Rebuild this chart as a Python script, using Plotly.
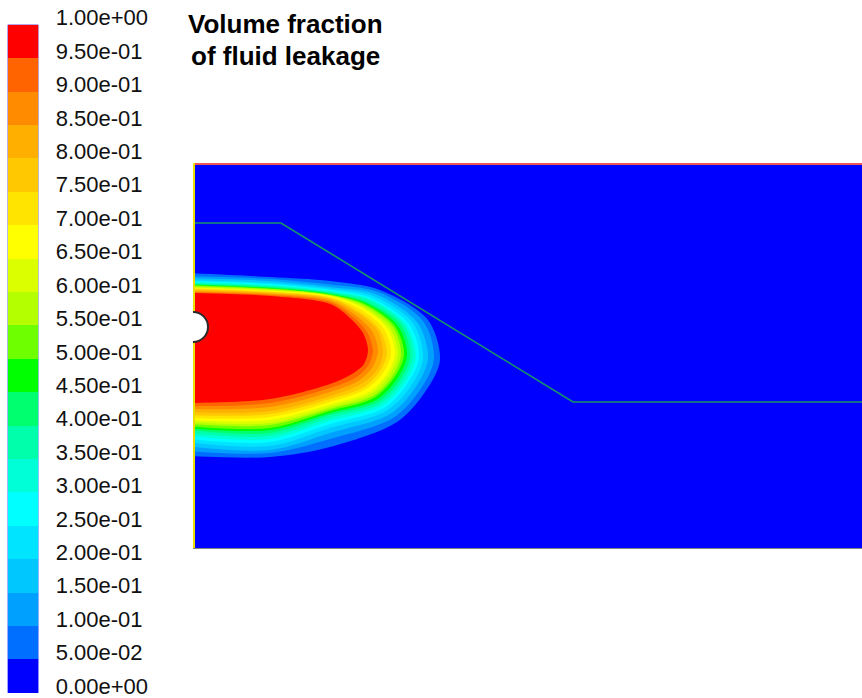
import plotly.graph_objects as go

W, H = 862, 698

# ---------------- colour legend ----------------
level_edges = [0.00, 0.05, 0.10, 0.15, 0.20, 0.25, 0.30, 0.35, 0.40, 0.45, 0.50,
               0.55, 0.60, 0.65, 0.70, 0.75, 0.80, 0.85, 0.90, 0.95, 1.00]
tick_labels = ["0.00e+00", "5.00e-02", "1.00e-01", "1.50e-01", "2.00e-01", "2.50e-01",
               "3.00e-01", "3.50e-01", "4.00e-01", "4.50e-01", "5.00e-01", "5.50e-01",
               "6.00e-01", "6.50e-01", "7.00e-01", "7.50e-01", "8.00e-01", "8.50e-01",
               "9.00e-01", "9.50e-01", "1.00e+00"]
band_colors = ["rgb(0,0,255)", "rgb(0,110,255)", "rgb(0,160,255)", "rgb(0,200,255)",
               "rgb(0,228,255)", "rgb(0,255,255)", "rgb(0,255,215)", "rgb(0,255,170)",
               "rgb(0,255,110)", "rgb(0,255,0)", "rgb(110,255,0)", "rgb(180,255,0)",
               "rgb(220,255,0)", "rgb(255,255,0)", "rgb(255,228,0)", "rgb(255,200,0)",
               "rgb(255,175,0)", "rgb(255,140,0)", "rgb(255,100,0)", "rgb(255,0,0)"]

# ---------------- contour boundaries (levels 0.05 ... 0.95) ----------------
contour_levels = [0.05, 0.10, 0.15, 0.20, 0.25, 0.30, 0.35, 0.40, 0.45, 0.50,
                  0.55, 0.60, 0.65, 0.70, 0.75, 0.80, 0.85, 0.90, 0.95]
top_wall_y = [110, 113, 115, 117, 118, 119, 120, 121, 121.5, 122, 123, 124, 124.5, 125, 126, 127, 128, 129, 130]
top_a_y = [114, 116, 118, 120, 121, 122, 123, 124, 125, 125.5, 126, 127, 128, 128.5, 129, 130, 131, 132, 133]
top_b_y = [118, 121.5, 124, 125.5, 127, 128, 129, 130, 131, 131.5, 132, 132.5, 133, 134, 135, 136, 137.5, 139, 141]
upper1_x = [187, 185, 182, 180, 178, 177, 176, 174, 173, 172, 171, 169, 168, 167, 165, 163, 161, 159, 157]
upper1_y = [127, 129, 131, 133, 135, 136, 137, 139, 140, 141, 142, 143, 144, 146, 148, 149, 151, 153, 155]
upper2_x = [235, 230, 224, 220, 216, 213, 211, 208, 205, 202, 200, 197, 194, 191, 187, 184, 179, 174, 170]
upper2_y = [157, 158, 159, 160, 161, 161, 162, 162, 163, 163, 164, 165, 165, 166, 167, 167, 168, 169, 170]
tip_x = [247, 241, 235, 230, 226, 223, 220, 217, 214, 211, 208, 205, 202, 198, 194, 190, 185, 180, 175]
tip_y = [197, 196, 195, 195, 194, 194, 193, 193, 192, 192, 192, 191, 191, 190, 190, 189, 188, 188, 187]
lower2_x = [232, 227, 222, 218, 214, 212, 209, 207, 204, 201, 199, 196, 194, 190, 187, 184, 179, 175, 171]
lower2_y = [229, 227, 225, 223, 221, 220, 219, 217, 216, 215, 214, 213, 211, 210, 208, 207, 205, 203, 201]
lower1_x = [204, 200, 197, 193, 191, 189, 187, 185, 183, 181, 180, 178, 176, 173, 171, 168, 165, 162, 159]
lower1_y = [259, 255, 251, 248, 245, 243, 241, 239, 237, 235, 233, 231, 229, 226, 224, 221, 218, 215, 211]
bot_b_y = [284, 276, 270, 265, 261, 258, 255, 252, 250, 248, 246, 244, 241.5, 239, 236, 233, 229, 225, 221]
bot_a_y = [294, 290, 287, 283, 279, 276, 273, 270, 267, 265, 262, 260, 257, 254, 251, 248, 244, 240, 236]
bot_wall_y = [293, 288, 283, 279, 276, 273, 270, 267, 265, 263, 261, 259, 257, 255, 252, 249, 246, 243, 240]
station_a_x = 77
station_b_x = 137
wall_x = -6

# ---------------- geometry ----------------
domain_x = [0, 669]
domain_y = [0, 386]
interface_x = [0, 88, 380, 669]
interface_y = [60, 60, 239, 239]
inlet_center_y = 164
inlet_radius = 15

title_lines = ["Volume fraction", "of fluid leakage"]

fig = go.Figure()

for j, lev in enumerate(contour_levels):
    xs = [wall_x, station_a_x, station_b_x, upper1_x[j], upper2_x[j], tip_x[j],
          lower2_x[j], lower1_x[j], station_b_x, station_a_x, wall_x]
    ys = [top_wall_y[j], top_a_y[j], top_b_y[j], upper1_y[j], upper2_y[j], tip_y[j],
          lower2_y[j], lower1_y[j], bot_b_y[j], bot_a_y[j], bot_wall_y[j]]
    fig.add_trace(go.Scatter(
        x=xs, y=ys, mode="lines", fill="toself", fillcolor=band_colors[j + 1],
        line=dict(width=0, shape="spline", smoothing=0.9, color=band_colors[j + 1]),
        hoverinfo="skip", showlegend=False, xaxis="x", yaxis="y"))

fig.add_trace(go.Scatter(
    x=interface_x, y=interface_y, mode="lines",
    line=dict(color="#16956a", width=1.6), hoverinfo="skip", showlegend=False,
    xaxis="x", yaxis="y"))

# colour legend as heatmap
n_bands = len(band_colors)
cscale = []
for k, c in enumerate(band_colors):
    cscale.append([k / n_bands, c])
    cscale.append([(k + 1) / n_bands, c])
fig.add_trace(go.Heatmap(
    x=[0, 1], y=level_edges, z=[[k] for k in range(n_bands)],
    zmin=-0.5, zmax=n_bands - 0.5, colorscale=cscale, showscale=False,
    hoverinfo="skip", xaxis="x2", yaxis="y2"))

shapes = [
    dict(type="line", xref="x", yref="y", x0=domain_x[0], x1=domain_x[1], y0=domain_y[0], y1=domain_y[0],
         line=dict(color="#ee5555", width=4)),
    dict(type="line", xref="x", yref="y", x0=domain_x[0], x1=domain_x[0], y0=domain_y[0], y1=domain_y[1],
         line=dict(color="#e8e000", width=4)),
    dict(type="line", xref="x", yref="y", x0=domain_x[0], x1=domain_x[1], y0=domain_y[1], y1=domain_y[1],
         line=dict(color="#808080", width=2)),
    dict(type="circle", xref="x", yref="y",
         x0=-inlet_radius, x1=inlet_radius,
         y0=inlet_center_y - inlet_radius, y1=inlet_center_y + inlet_radius,
         fillcolor="white", line=dict(color="#2a2a2a", width=2), layer="above"),
]

annotations = []
for i, (line_text, ypix) in enumerate(zip(title_lines, [24, 56])):
    annotations.append(dict(
        text="<b>" + line_text + "</b>", xref="paper", yref="paper",
        x=285 / W, y=(H - ypix) / H, xanchor="center", yanchor="middle", showarrow=False,
        font=dict(family="Liberation Sans, Arial, sans-serif", size=26, color="black")))

fig.update_layout(
    width=W, height=H,
    margin=dict(l=0, r=0, t=0, b=0, autoexpand=False),
    paper_bgcolor="white", plot_bgcolor="rgb(0,0,255)",
    showlegend=False,
    xaxis=dict(domain=[193 / W, 1], range=domain_x, visible=False, fixedrange=True, automargin=False),
    yaxis=dict(domain=[149 / H, 535 / H], range=[domain_y[1], domain_y[0]], visible=False,
               fixedrange=True, automargin=False),
    xaxis2=dict(domain=[7.7 / W, 38.3 / W], range=[0, 1], visible=False, anchor="y2", automargin=False),
    yaxis2=dict(domain=[5 / H, 673.3 / H], range=[0, 1], anchor="x2", side="right",
                tickvals=level_edges, ticktext=tick_labels, showgrid=False, zeroline=False,
                showline=False, ticks="outside", ticklen=12, tickcolor="rgba(0,0,0,0)",
                ticklabelshift=-7, automargin=False, ticklabeloverflow="allow",
                tickfont=dict(family="Liberation Sans, Arial, sans-serif", size=22, color="#111111")),
    shapes=shapes,
    annotations=annotations,
)

fig.write_html("out.html")
